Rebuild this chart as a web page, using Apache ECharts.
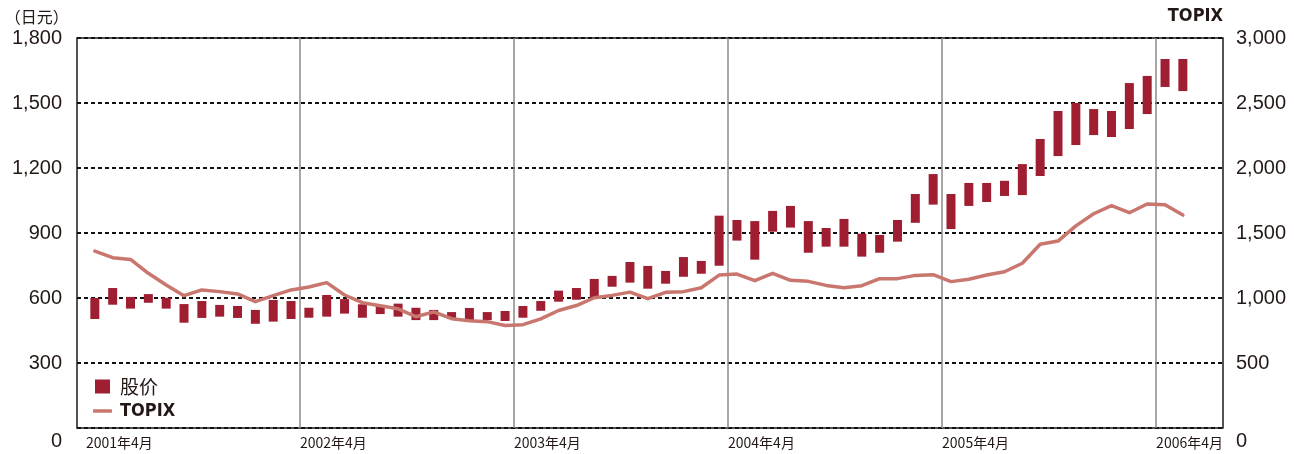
<!DOCTYPE html>
<html>
<head>
<meta charset="utf-8">
<script src="https://cdn.jsdelivr.net/npm/echarts@6/dist/echarts.min.js"></script>
<style>
html,body{margin:0;padding:0;background:#fff;}
#chart{width:1294px;height:454px;}
</style>
</head>
<body>
<div id="chart"></div>
<script>
// Months: index 0 = 2001年4月 ... index 61 = 2006年5月
const yearLabels = ['2001年4月','2002年4月','2003年4月','2004年4月','2005年4月','2006年4月'];
const priceLow = [503,569,551,578,551,486,508,514,508,481,491,503,
  509,514,528,509,526,514,498,498,505,495,498,494,
  509,541,583,592,601,652,671,643,666,698,712,749,
  865,777,906,925,809,837,837,791,809,860,947,1031,
  918,1025,1043,1071,1075,1163,1255,1306,1352,1343,1380,1449,
  1574,1555];
const priceHigh = [600,646,605,618,601,572,586,568,563,545,591,586,
  555,614,595,571,565,574,555,545,535,554,535,540,
  563,586,634,646,688,702,766,748,725,789,771,980,
  960,955,1002,1025,955,923,965,897,891,960,1080,1172,
  1080,1131,1131,1141,1218,1334,1463,1500,1472,1463,1592,1625,
  1703,1703];
const topix = [1361,1310,1297,1190,1100,1018,1062,1049,1031,972,1018,1062,
  1085,1118,1023,964,941,917,856,893,841,825,818,788,
  795,840,904,942,1002,1020,1045,995,1044,1049,1079,1176,
  1184,1133,1190,1136,1128,1097,1079,1095,1149,1149,1174,1179,
  1126,1144,1177,1202,1267,1413,1438,1555,1648,1710,1656,1723,
  1718,1638];

const BAR_COLOR = '#9f1e31';
const LINE_COLOR = '#c9766e';
const TEXT_COLOR = '#231815';
const NARROW = 'Liberation Sans Narrow, DejaVu Sans Condensed, sans-serif';

const barData = priceLow.map((v, i) => [i, v, priceHigh[i]]);
const lineData = topix.map((v, i) => [i, v]);
const yearStarts = yearLabels.map((_, k) => k * 12 - 0.5);

function fmt(v) { return String(v).replace(/\B(?=(\d{3})+(?!\d))/g, ','); }

const chart = echarts.init(document.getElementById('chart'), null, {renderer: 'canvas'});
chart.setOption({
  animation: false,
  backgroundColor: '#fff',
  grid: {left: 77, right: 71, top: 38, bottom: 26, show: true, borderColor: TEXT_COLOR, borderWidth: 1.5, backgroundColor: 'transparent'},
  legend: [{
    left: 95, top: 377, orient: 'vertical', padding: 0, itemWidth: 15, itemHeight: 14,
    data: [{name: '股价', icon: 'rect'}],
    textStyle: {fontSize: 19, color: TEXT_COLOR, fontFamily: 'Noto Sans CJK SC', padding: [0, 0, 0, 5]}
  }, {
    left: 93, top: 402, orient: 'vertical', padding: 0, itemWidth: 19, itemHeight: 3.5,
    data: [{name: 'TOPIX', icon: 'roundRect'}],
    textStyle: {fontSize: 18, color: TEXT_COLOR, fontWeight: 'bold', fontFamily: NARROW, padding: [0, 0, 0, 3]}
  }],
  xAxis: {
    type: 'value', min: -1, max: 63.25,
    axisLine: {show: false}, axisTick: {show: false}, splitLine: {show: false},
    axisLabel: {
      customValues: yearStarts, align: 'left', margin: 8,
      fontSize: 14, color: TEXT_COLOR, fontFamily: 'Noto Sans CJK SC',
      formatter: v => yearLabels[Math.round((v + 0.5) / 12)]
    }
  },
  yAxis: [{
    type: 'value', min: 0, max: 1800, interval: 300,
    name: '（日元）', nameLocation: 'end', nameGap: 13,
    nameTextStyle: {fontSize: 16, color: TEXT_COLOR, fontFamily: 'Noto Sans CJK SC', align: 'right', padding: [0, 26, 0, 0]},
    axisLine: {show: false}, axisTick: {show: false},
    axisLabel: {
      margin: 15, fontSize: 20, color: TEXT_COLOR, fontFamily: 'Liberation Sans',
      formatter: v => v === 0 ? '{z|0}' : fmt(v),
      rich: {z: {fontSize: 20, color: TEXT_COLOR, fontFamily: 'Liberation Sans', padding: [26, 0, 0, 0]}}
    },
    splitLine: {show: true, lineStyle: {color: '#111', width: 2, type: [4, 3]}}
  }, {
    type: 'value', min: 0, max: 3000, interval: 500, position: 'right',
    name: 'TOPIX', nameLocation: 'end', nameGap: 13,
    nameTextStyle: {fontSize: 18, fontWeight: 'bold', color: TEXT_COLOR, fontFamily: NARROW, align: 'right'},
    axisLine: {show: false}, axisTick: {show: false},
    axisLabel: {
      margin: 13, fontSize: 20, color: TEXT_COLOR, fontFamily: 'Liberation Sans',
      formatter: v => v === 0 ? '{z|0}' : fmt(v),
      rich: {z: {fontSize: 20, color: TEXT_COLOR, fontFamily: 'Liberation Sans', padding: [26, 0, 0, 0]}}
    },
    splitLine: {show: false}
  }],
  series: [{
    name: '股价', type: 'custom', yAxisIndex: 0, z: 3,
    itemStyle: {color: BAR_COLOR},
    encode: {x: 0, y: [1, 2]},
    data: barData,
    renderItem: function (params, api) {
      const x = api.value(0);
      const p1 = api.coord([x, api.value(2)]);
      const p2 = api.coord([x, api.value(1)]);
      const w = 9;
      return {type: 'rect', shape: {x: p1[0] - w / 2, y: p1[1], width: w, height: p2[1] - p1[1]}, style: {fill: BAR_COLOR}};
    }
  }, {
    name: 'TOPIX', type: 'line', yAxisIndex: 1, z: 4,
    symbol: 'none', data: lineData,
    lineStyle: {color: LINE_COLOR, width: 3.5, cap: 'round', join: 'round'},
    itemStyle: {color: LINE_COLOR},
    markLine: {
      silent: true, symbol: 'none', label: {show: false}, z: 1,
      lineStyle: {color: '#8a8a8a', width: 1.5, type: 'solid'},
      data: yearStarts.slice(1).map(v => ({xAxis: v}))
    }
  }]
});
</script>
</body>
</html>
